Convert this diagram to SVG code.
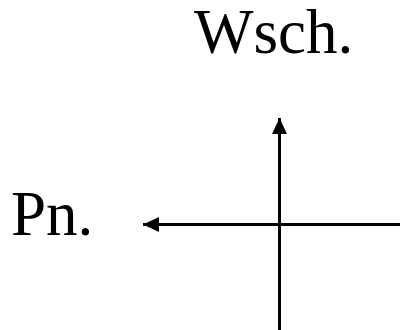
<svg xmlns="http://www.w3.org/2000/svg" width="400" height="330" viewBox="0 0 400 330">
<style>
.lbl{font-family:"Liberation Serif","Times New Roman",serif;font-size:63px;fill:#000}
.ax{stroke:#000;stroke-width:3;fill:none}
</style>
<defs>
<marker id="ah" viewBox="0 0 16 15" refX="16" refY="7.5" markerWidth="16" markerHeight="15" markerUnits="userSpaceOnUse" orient="auto">
<path d="M0,0 L16,7.5 L0,15 Z" fill="#000"/>
</marker>
</defs>
<g id="connectors">
<line class="ax" x1="279.5" y1="330" x2="279.5" y2="118" marker-end="url(#ah)"/>
<line class="ax" x1="400" y1="224.5" x2="143" y2="224.5" marker-end="url(#ah)"/>
</g>
<g id="wsch"><text class="lbl" x="194" y="53">Wsch.</text></g>
<g id="pn"><text class="lbl" x="11" y="235">Pn.</text></g>
</svg>
